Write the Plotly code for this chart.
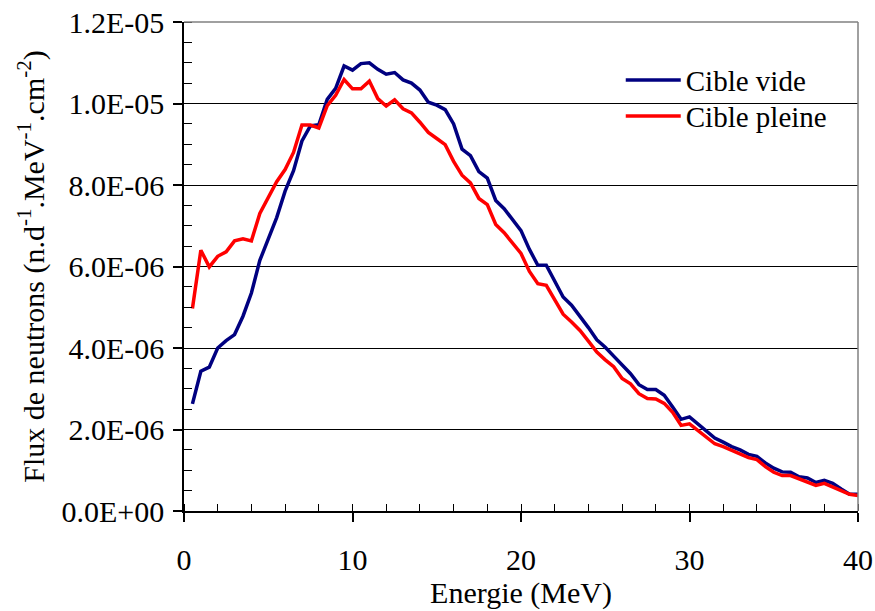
import plotly.graph_objects as go

energie = [i * 0.5 for i in range(1, 81)]

cible_vide = [
    2.63, 3.43, 3.53, 4.00, 4.18, 4.33, 4.78, 5.35, 6.15, 6.65,
    7.20, 7.85, 8.35, 9.08, 9.45, 9.48, 10.10, 10.37, 10.92, 10.82,
    10.98, 11.00, 10.84, 10.72, 10.76, 10.58, 10.50, 10.33, 10.03, 9.96,
    9.85, 9.50, 8.88, 8.72, 8.33, 8.17, 7.62, 7.42, 7.14, 6.88,
    6.42, 6.03, 6.03, 5.62, 5.25, 5.05, 4.78, 4.50, 4.20, 4.02,
    3.80, 3.57, 3.37, 3.10, 2.98, 2.98, 2.84, 2.55, 2.25, 2.31,
    2.13, 1.95, 1.79, 1.69, 1.58, 1.50, 1.39, 1.34, 1.18, 1.05,
    0.96, 0.95, 0.84, 0.81, 0.70, 0.75, 0.68, 0.54, 0.41, 0.41,
]

cible_pleine = [
    4.97, 6.40, 5.99, 6.25, 6.36, 6.63, 6.68, 6.63, 7.30, 7.70,
    8.08, 8.38, 8.80, 9.47, 9.47, 9.40, 9.95, 10.20, 10.59, 10.36,
    10.36, 10.55, 10.12, 9.94, 10.09, 9.87, 9.77, 9.54, 9.29, 9.14,
    8.99, 8.58, 8.24, 8.05, 7.67, 7.52, 7.03, 6.83, 6.59, 6.32,
    5.88, 5.58, 5.54, 5.19, 4.83, 4.64, 4.43, 4.17, 3.90, 3.71,
    3.54, 3.25, 3.12, 2.88, 2.76, 2.75, 2.64, 2.42, 2.10, 2.14,
    1.98, 1.81, 1.65, 1.58, 1.49, 1.42, 1.31, 1.26, 1.09, 0.95,
    0.87, 0.87, 0.79, 0.73, 0.63, 0.68, 0.60, 0.50, 0.41, 0.38,
]

y_tick_vals = [0, 2e-6, 4e-6, 6e-6, 8e-6, 1e-5, 1.2e-5]
y_tick_text = ["0.0E+00", "2.0E-06", "4.0E-06", "6.0E-06", "8.0E-06", "1.0E-05", "1.2E-05"]
x_tick_vals = [0, 10, 20, 30, 40]

vide = [v * 1e-6 for v in cible_vide]
pleine = [v * 1e-6 for v in cible_pleine]

FONT = "Liberation Serif"

fig = go.Figure()
fig.add_trace(go.Scatter(x=energie, y=vide, mode="lines", name="Cible vide",
                         line=dict(color="#000080", width=3.5), legend="legend"))
fig.add_trace(go.Scatter(x=energie, y=pleine, mode="lines", name="Cible pleine",
                         line=dict(color="#FF0000", width=3.5), legend="legend2"))

leg_common = dict(xanchor="left", yanchor="middle", bgcolor="rgba(0,0,0,0)",
                  borderwidth=0, itemwidth=55, font=dict(family=FONT, size=29))

fig.update_layout(
    width=875, height=611,
    margin=dict(l=184, r=17, t=22, b=100),
    paper_bgcolor="white", plot_bgcolor="white",
    font=dict(family=FONT, size=29, color="black"),
    showlegend=True,
    legend=dict(x=0.648, y=0.881, **leg_common),
    legend2=dict(x=0.648, y=0.8076, **leg_common),
    xaxis=dict(range=[0, 40], tickvals=x_tick_vals, ticks="outside", ticklen=9,
               tickcolor="black", tickwidth=1.5, automargin=False,
               showline=True, linecolor="black", linewidth=1.5,
               showgrid=False, zeroline=False,
               minor=dict(dtick=2, ticks="inside", ticklen=7, tickcolor="black", tickwidth=1),
               ticklabelstandoff=12,
               tickfont=dict(family=FONT, size=30),
               title=dict(text="Energie (MeV)", font=dict(family=FONT, size=30), standoff=0)),
    yaxis=dict(range=[0, 1.2e-5], tickvals=y_tick_vals, ticktext=y_tick_text,
               ticks="outside", ticklen=9, tickcolor="black", tickwidth=1.5,
               showline=True, linecolor="black", linewidth=1.5, automargin=False,
               showgrid=True, gridcolor="black", gridwidth=1,
               zeroline=False,
               minor=dict(dtick=0.5e-6, ticks="inside", ticklen=8, tickcolor="black", tickwidth=1),
               ticklabelstandoff=3,
               tickfont=dict(family=FONT, size=30),
               title=dict(text="Flux de neutrons (n.d<sup>-1</sup>.MeV<sup>-1</sup>.cm<sup>-2</sup>)",
                          font=dict(family=FONT, size=30), standoff=8)),
    xaxis2=dict(range=[0, 40], overlaying="x", anchor="y", side="bottom",
                tickvals=x_tick_vals, ticks="inside", ticklen=8, tickcolor="black",
                tickwidth=1.5, showticklabels=False, showline=False, showgrid=False,
                zeroline=False),
    yaxis2=dict(range=[0, 1.2e-5], overlaying="y", anchor="x", side="left",
                tickvals=y_tick_vals, ticks="inside", ticklen=8, tickcolor="black",
                tickwidth=1.5, showticklabels=False, showline=False, showgrid=False,
                zeroline=False),
    shapes=[
        # white legend background hiding the gridline behind the legend
        dict(type="rect", xref="paper", yref="paper", x0=0.6215, x1=0.9866,
             y0=0.80, y1=0.90, fillcolor="white", line=dict(width=0), layer="between"),
        dict(type="line", xref="paper", yref="paper", x0=0, x1=1, y0=1, y1=1,
             line=dict(color="#808080", width=1.5), layer="above"),
        dict(type="line", xref="paper", yref="paper", x0=1, x1=1, y0=0, y1=1,
             line=dict(color="#808080", width=1.5), layer="above"),
    ],
)

fig.write_html("out.html", config={"displayModeBar": False},
               post_script="document.body.style.margin='0';")
